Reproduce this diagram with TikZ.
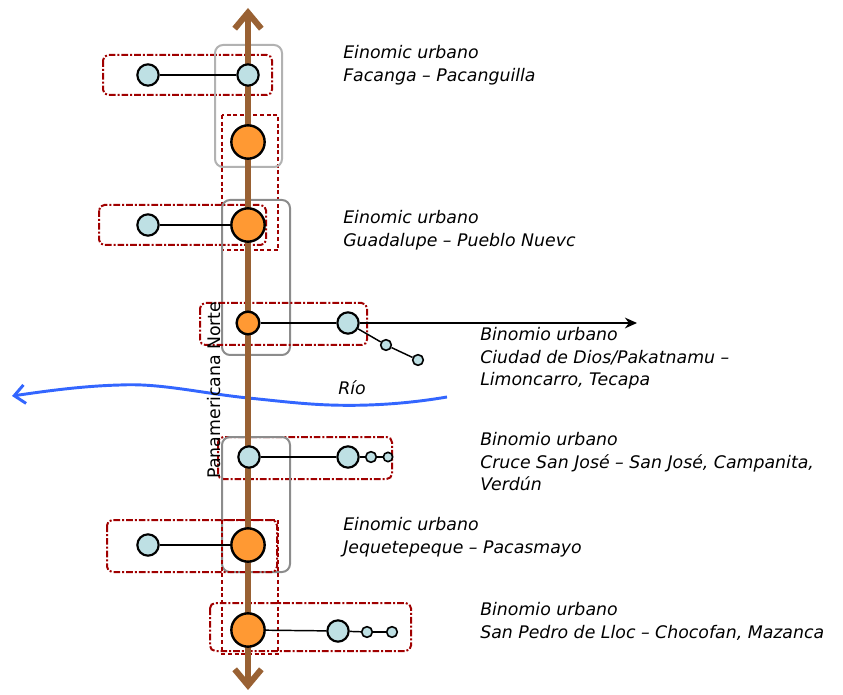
\documentclass[tikz,border=0pt]{standalone}
\usepackage{fontspec}
\setmainfont{DejaVu Sans}
\usetikzlibrary{arrows.meta}
\definecolor{roadbrown}{RGB}{153,97,51}
\definecolor{lblue}{RGB}{190,224,228}
\definecolor{orng}{RGB}{255,153,51}
\definecolor{dred}{RGB}{160,0,0}
\definecolor{riverblue}{RGB}{51,102,255}
\definecolor{gboxa}{RGB}{178,178,178}
\definecolor{gboxb}{RGB}{140,140,140}
\begin{document}
\begin{tikzpicture}[x=0.75pt,y=-0.75pt,
 lb/.style={circle,draw=black,line width=1.6pt,fill=lblue,inner sep=0pt,minimum size=16pt},
 sm/.style={lb,line width=1.2pt,minimum size=8pt},
 org/.style={circle,draw=black,line width=1.8pt,fill=orng,inner sep=0pt,minimum size=25pt},
 orgs/.style={org,minimum size=17pt},
 conn/.style={draw=black,line width=1.6pt},
 thinconn/.style={draw=black,line width=1.1pt},
 rowbox/.style={draw=dred,line width=1.5pt,dash pattern=on 5pt off 1.5pt on 1.5pt off 1.5pt,rounded corners=4pt},
 colbox/.style={draw=dred,line width=1.5pt,dash pattern=on 3pt off 2pt},
 greybox/.style={line width=1.5pt,rounded corners=6pt},
 road/.style={draw=roadbrown,line width=4.5pt},
 river/.style={draw=riverblue,line width=2.2pt},
 lbl/.style={anchor=north west,inner sep=0pt,align=left,font=\fontsize{13}{17}\selectfont\itshape}
]
\useasboundingbox (0,0) rectangle (843,695);

% boxes
\draw[rowbox] (103,55) rectangle (272,95);
\draw[colbox] (222,115) rectangle (278,250);
\draw[greybox,draw=gboxa] (215,45) rectangle (282,167);
\draw[rowbox] (99,205) rectangle (266,245);
\draw[greybox,draw=gboxb] (222,200) rectangle (290,355);
\draw[rowbox] (200,303) rectangle (367,345);
\draw[rowbox] (218,437) rectangle (392,479);
\draw[greybox,draw=gboxb] (222,437) rectangle (290,572);
\draw[rowbox] (107,520) rectangle (277,572);
\draw[colbox] (222,520) rectangle (278,654);
\draw[rowbox] (210,603) rectangle (411,651);

% river
\coordinate (rvs) at (447,397);
\coordinate (rve) at (12,396);
\draw[river,-{Straight Barb[length=8pt,width=14pt]}] (rvs) .. controls (400,405) and (360,406) .. (330,405)
  .. controls (300,404) and (270,400) .. (248,398)
  .. controls (200,393) and (160,383) .. (120,385)
  .. controls (80,386) and (40,392) .. (rve);

% road
\coordinate (rtop) at (248,8);
\coordinate (rbot) at (248,690);
\draw[road,{Straight Barb[length=12pt,width=20pt]}-{Straight Barb[length=12pt,width=20pt]}] (rbot) -- (rtop);

% circles
\node[lb] (a1) at (148,75) {};
\node[lb] (a2) at (248,75) {};
\node[org] (o1) at (248,142) {};
\node[lb] (b1) at (148,225) {};
\node[org] (b2) at (248,225) {};
\node[orgs] (c1) at (248,323) {};
\node[lb] (c2) at (348,323) {};
\node[sm] (c3) at (386,345) {};
\node[sm] (c4) at (418,360) {};
\node[lb] (d1) at (249,457) {};
\node[lb] (d2) at (348,457) {};
\node[sm] (d3) at (371,457) {};
\node[sm,minimum size=7pt] (d4) at (388,457) {};
\node[lb] (e1) at (148,545) {};
\node[org] (e2) at (248,545) {};
\node[org] (f1) at (248,630) {};
\node[lb] (f2) at (338,631) {};
\node[sm] (f3) at (367,632) {};
\node[sm] (f4) at (392,632) {};

% connectors
\draw[conn] (a1) -- (a2);
\draw[conn] (b1) -- (b2);
\draw[conn] (c1) -- (c2);
\coordinate (c5) at (637,323);
\draw[conn,-{Stealth[length=9pt,width=8pt]}] (c2) -- (c5);
\draw[thinconn] (c2) -- (c3);
\draw[thinconn] (c3) -- (c4);
\draw[conn] (d1) -- (d2);
\draw[thinconn] (d2) -- (d3);
\draw[thinconn] (d3) -- (d4);
\draw[conn] (e1) -- (e2);
\draw[thinconn] (f1) -- (f2);
\draw[thinconn] (f2) -- (f3);
\draw[thinconn] (f3) -- (f4);

% labels
\node[lbl] (t1) at (343,45) {Einomic urbano\\Facanga – Pacanguilla};
\node[lbl] (t2) at (343,210) {Einomic urbano\\Guadalupe – Pueblo Nuevc};
\node[lbl] (t3) at (480,327) {Binomio urbano\\Ciudad de Dios/Pakatnamu –\\Limoncarro, Tecapa};
\node[lbl] (t4) at (480,432) {Binomio urbano\\Cruce San José – San José, Campanita,\\Verdún};
\node[lbl] (t5) at (343,517) {Einomic urbano\\Jequetepeque –  Pacasmayo};
\node[lbl] (t6) at (480,602) {Binomio urbano\\San Pedro de Lloc – Chocofan, Mazanca};
\node[anchor=base west,inner sep=0pt,font=\fontsize{13}{15}\selectfont\itshape] (rio) at (338,395) {Río};
\node[rotate=90,anchor=base,inner sep=0pt,font=\fontsize{13}{15}\selectfont] (pan) at (220,390) {Panamericana Norte};
\end{tikzpicture}
\end{document}
